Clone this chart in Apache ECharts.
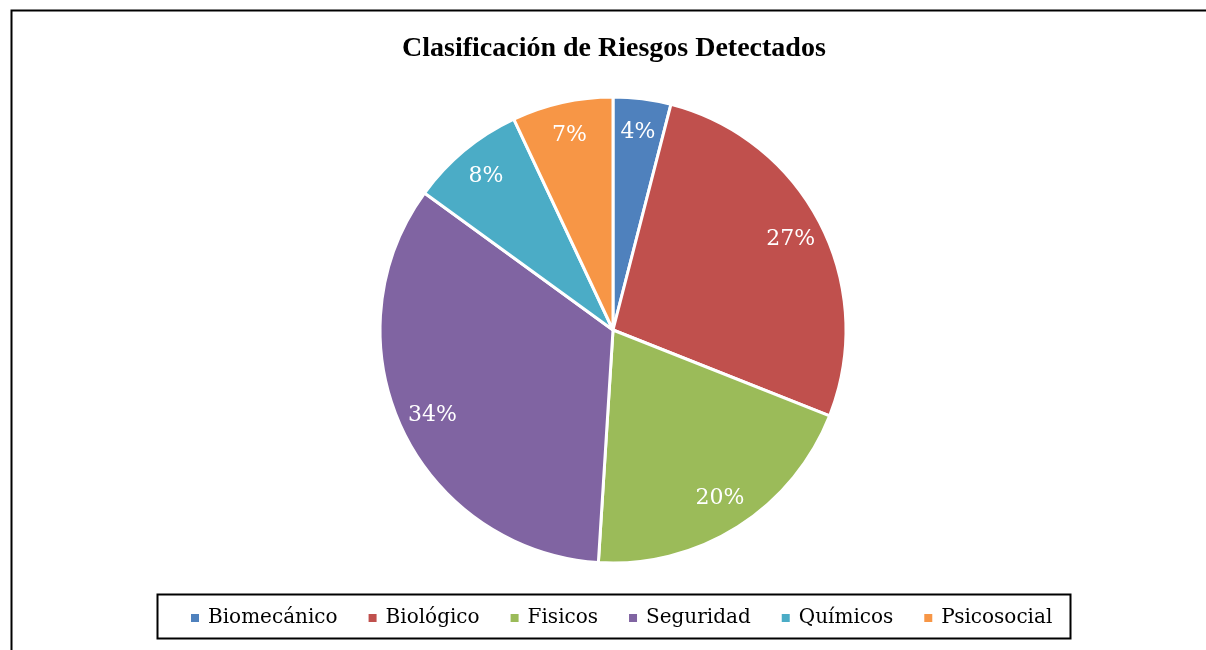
<!DOCTYPE html>
<html>
<head>
<meta charset="utf-8">
<script src="https://cdn.jsdelivr.net/npm/echarts@6/dist/echarts.min.js"></script>
<style>
  html, body { margin: 0; padding: 0; background: #fff; }
  #chart { width: 1206px; height: 650px; }
</style>
</head>
<body>
<div id="chart"></div>
<script>
const titulo = 'Clasificación de Riesgos Detectados'
const categorias = ['Biomecánico', 'Biológico', 'Fisicos', 'Seguridad', 'Químicos', 'Psicosocial']
const valores = [4, 27, 20, 34, 8, 7]
const colores = ['#4F81BD', '#C0504D', '#9BBB59', '#8064A2', '#4BACC6', '#F79646']

const datos = categorias.map((c, i) => ({ name: c, value: valores[i] }))

const chart = echarts.init(document.getElementById('chart'))

const option = {
  animation: false,
  color: colores,
  title: {
    text: titulo,
    left: 402,
    top: 35,
    padding: 0,
    textStyle: {
      fontFamily: 'Liberation Serif',
      fontWeight: 'bold',
      fontSize: 28,
      color: '#000'
    }
  },
  legend: {
    data: categorias,
    left: 189,
    top: 608,
    padding: 0,
    icon: 'rect',
    itemWidth: 10,
    itemHeight: 10,
    itemGap: 29,
    textStyle: {
      fontFamily: 'DejaVu Serif',
      fontSize: 20,
      color: '#000',
      padding: [0, 0, 0, 3]
    }
  },
  graphic: [
    {
      type: 'rect',
      shape: { x: 11.5, y: 10.5, width: 1300, height: 700 },
      style: { fill: 'none', stroke: '#000', lineWidth: 2 },
      silent: true,
      z: -1
    },
    {
      type: 'rect',
      shape: { x: 157.5, y: 594.5, width: 913, height: 44 },
      style: { fill: 'none', stroke: '#000', lineWidth: 2 },
      silent: true,
      z: -1
    }
  ],
  series: [
    {
      type: 'pie',
      center: [613, 330],
      radius: [0, 233],
      startAngle: 90,
      data: datos,
      label: { show: false },
      labelLine: { show: false },
      itemStyle: { borderColor: '#fff', borderWidth: 3 },
      emphasis: { disabled: true }
    },
    {
      // anillo invisible solo para poner las etiquetas cerca del borde
      type: 'pie',
      center: [613, 330],
      radius: [160, 233],
      startAngle: 90,
      data: datos,
      silent: true,
      itemStyle: { color: 'transparent', borderWidth: 0 },
      label: {
        show: true,
        position: 'inside',
        formatter: '{c}%',
        fontFamily: 'DejaVu Serif',
        fontSize: 22,
        color: '#fff'
      },
      labelLine: { show: false },
      emphasis: { disabled: true }
    }
  ]
}

chart.setOption(option)
</script>
</body>
</html>
